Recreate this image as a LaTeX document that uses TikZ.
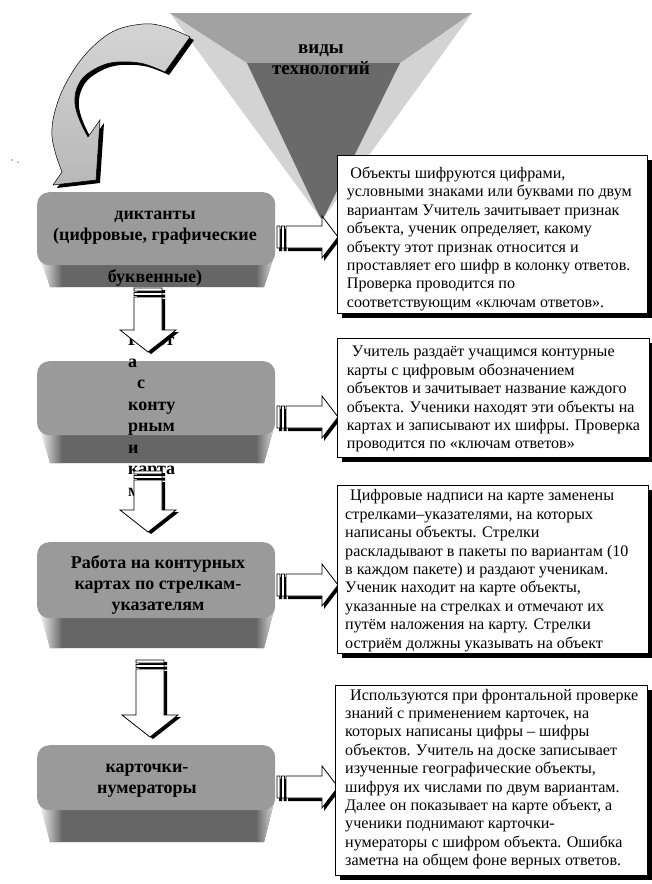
\documentclass[tikz,border=0pt]{standalone}
\usepackage{fontspec}
\setmainfont{Liberation Serif}
\usetikzlibrary{calc}
\definecolor{fnlight}{HTML}{D3D3D3}
\definecolor{fnmid}{HTML}{A2A2A2}
\definecolor{fndark}{HTML}{6A6A6A}
\definecolor{boxtop}{HTML}{9A9A9A}
\definecolor{boxside}{HTML}{666666}
\definecolor{arrgray}{HTML}{B8B8B8}
\tikzset{
  boxface/.style={fill=boxtop, rounded corners=12pt, inner sep=0pt, draw=none, anchor=north west},
  boxtext/.style={font=\bfseries\fontsize{18}{21}\selectfont, align=center, inner sep=0pt, anchor=north},
  ftext/.style={font=\bfseries\fontsize{19}{21}\selectfont, align=center, inner sep=0pt, anchor=north},
  tbframe/.style={draw=black, line width=0.9pt, fill=white, inner sep=0pt, anchor=north west},
  tbtext/.style={font=\fontsize{16.1}{18.4}\selectfont, align=left, inner sep=0pt, anchor=north west},
  blockarrow/.style={draw=black, line width=0.8pt, fill=white},
  shadowfill/.style={fill=black},
}
\newcommand\threedbox[4]{%
  \fill[boxside] (40,#3-12) -- (275,#3-12) -- (264,#4) -- (50,#4) -- cycle;
  \shade[left color=white, right color=boxside] (38,#3-12) -- (62,#3-12) -- (62,#4) -- (50,#4) -- cycle;
  \shade[left color=boxside, right color=gray!25] (256,#3-12) -- (275,#3-12) -- (264,#4) -- (256,#4) -- cycle;
  \node[boxface, minimum width=238, minimum height=#3-#2] (#1) at (37,#2) {};
}
\newcommand\downblock[4]{%
  \path[#4] ($(#1)+(#3)+(-14,0)$) rectangle +(28,3)
            ($(#1)+(#3)+(-14,4.5)$) rectangle +(28,3)
            ($(#1)+(#3)+(-14,9)$) -- ++(28,0) -- ($(#2)+(#3)+(14,-22)$) -- ++(14,0)
            -- ($(#2)+(#3)$) -- ++(-28,-22) -- ++(14,0) -- cycle;}
\newcommand\rightblock[4]{%
  \path[#4] ($(#1)+(#3)+(0,-11)$) rectangle +(3,22)
            ($(#1)+(#3)+(4.5,-11)$) rectangle +(3,22)
            ($(#1)+(#3)+(9,-11)$) -- ($(#2)+(#3)+(-16,-11)$) -- ++(0,-10)
            -- ($(#2)+(#3)$) -- ++(-16,21) -- ++(0,-10) -- ($(#1)+(#3)+(9,11)$) -- cycle;}
\newcommand\curvedarrowshape[1]{%
  \path[#1] plot[smooth,tension=0.6] coordinates {(190,37) (166,27) (143,24) (112,32) (84,56) (64,87) (54,115) (52,136) (56,155) (62,172)}
    -- (53,185) -- (96,180) -- (100,120)
    -- plot[smooth,tension=0.6] coordinates {(88,137) (80,121) (75,104) (77,88) (87,74) (110,63) (140,63) (165,72)}
    -- cycle;}
\begin{document}
\begin{tikzpicture}[x=1pt,y=-1pt]
\useasboundingbox (0,0) rectangle (652,884);
\fill[white] (0,0) rectangle (652,884);
% funnel
\fill[fnlight] (170,13) -- (472,13) -- (322,220) -- cycle;
\fill[fnmid] (170,13) -- (472,13) -- (400,63) -- (247,63) -- cycle;
\fill[fndark] (247,63) -- (400,63) -- (327,211) .. controls (322,221) .. (317,211) -- cycle;
\node[ftext] (fun) at (321,38.6) {\strut виды\\технологий};
% curved arrow
\curvedarrowshape{fill=black, shift={(4,3)}}
\curvedarrowshape{top color=arrgray!60, bottom color=arrgray, draw=black, line width=0.5pt}
\fill (12,160) circle (0.7);
\fill (18,162) circle (0.7);
% boxes
\threedbox{b1}{192}{265}{287}
\threedbox{b2}{361}{435}{463}
\threedbox{b3}{542}{618}{648}
\threedbox{b4}{745}{810}{842}
\node[boxtext] (b1x) at (155,204.8) {\strut диктанты\\(цифровые, графические\\\strut\\буквенные)};
\node[boxtext, align=left, anchor=north west, font=\bfseries\fontsize{18}{21.5}\selectfont] (b2x) at (128,330.4) {\strut Работ\\а\\\hspace*{9pt}с\\конту\\рным\\и\\карта\\м};
\node[boxtext] (b3x) at (158,553.6) {\strut Работа на контурных\\картах по стрелкам-\\указателям};
\node[boxtext] (b4x) at (147,758) {\strut карточки-\\нумераторы};
% down arrows
\coordinate (d1s) at (148,288); \coordinate (d1e) at (148,352);
\coordinate (d2s) at (148,471); \coordinate (d2e) at (148,532);
\coordinate (d3s) at (150,660); \coordinate (d3e) at (150,737);
\downblock{d1s}{d1e}{3,2}{shadowfill}
\downblock{d1s}{d1e}{0,0}{blockarrow}
\downblock{d2s}{d2e}{3,2}{shadowfill}
\downblock{d2s}{d2e}{0,0}{blockarrow}
\downblock{d3s}{d3e}{3,2}{shadowfill}
\downblock{d3s}{d3e}{0,0}{blockarrow}
% right arrows
\coordinate (r1s) at (277,237); \coordinate (r1e) at (338,237);
\coordinate (r2s) at (277,417); \coordinate (r2e) at (338,417);
\coordinate (r3s) at (277,585); \coordinate (r3e) at (338,585);
\coordinate (r4s) at (277,787); \coordinate (r4e) at (338,787);
\rightblock{r1s}{r1e}{2,3}{shadowfill}
\rightblock{r1s}{r1e}{0,0}{blockarrow}
\rightblock{r2s}{r2e}{2,3}{shadowfill}
\rightblock{r2s}{r2e}{0,0}{blockarrow}
\rightblock{r3s}{r3e}{2,3}{shadowfill}
\rightblock{r3s}{r3e}{0,0}{blockarrow}
\rightblock{r4s}{r4e}{2,3}{shadowfill}
\rightblock{r4s}{r4e}{0,0}{blockarrow}
% text boxes
\fill[black] (342,160) rectangle (652,318);
\node[tbframe, minimum width=310, minimum height=158] (t1) at (337,155) {};
\node[tbtext] (t1x) at (346.7,165.4) {\strut\hspace*{3.5pt}Объекты шифруются цифрами,\\условными знаками или буквами по двум\\вариантам Учитель зачитывает признак\\объекта, ученик определяет, какому\\объекту этот признак относится и\\проставляет его шифр в колонку ответов.\\Проверка проводится по\\соответствующим «ключам ответов».};
\fill[black] (342,343) rectangle (652,462);
\node[tbframe, minimum width=312, minimum height=119] (t2) at (337,338) {};
\node[tbtext] (t2x) at (346.7,343.8) {\strut\hspace*{5pt}Учитель раздаёт учащимся контурные\\карты с цифровым обозначением\\объектов и зачитывает название каждого\\объекта. Ученики находят эти объекты на\\картах и записывают их шифры. Проверка\\проводится по «ключам ответов»};
\fill[black] (342,490) rectangle (652,658);
\node[tbframe, minimum width=311, minimum height=168] (t3) at (337,485) {};
\node[tbtext] (t3x) at (345,487.8) {\strut\hspace*{5pt}Цифровые надписи на карте заменены\\стрелками–указателями, на которых\\написаны объекты. Стрелки\\раскладывают в пакеты по вариантам (10\\в каждом пакете) и раздают ученикам.\\Ученик находит на карте объекты,\\указанные на стрелках и отмечают их\\путём наложения на карту. Стрелки\\остриём должны указывать на объект};
\fill[black] (340,690) rectangle (652,880);
\node[tbframe, minimum width=312, minimum height=190] (t4) at (335,685) {};
\node[tbtext] (t4x) at (345,687.1) {\strut\hspace*{5pt}Используются при фронтальной проверке\\знаний с применением карточек, на\\которых написаны цифры – шифры\\объектов. Учитель на доске записывает\\изученные географические объекты,\\шифруя их числами по двум вариантам.\\Далее он показывает на карте объект, а\\ученики поднимают карточки-\\нумераторы с шифром объекта. Ошибка\\заметна на общем фоне верных ответов.};
\end{tikzpicture}
\end{document}
